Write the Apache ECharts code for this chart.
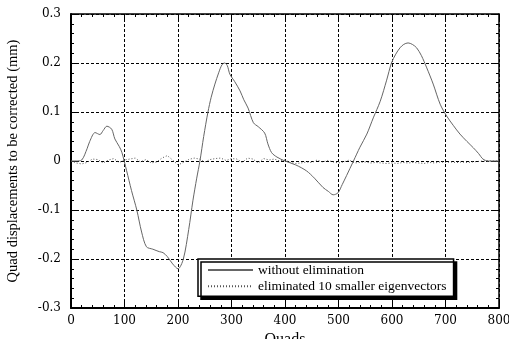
<!DOCTYPE html>
<html><head><meta charset="utf-8">
<script src="https://cdn.jsdelivr.net/npm/echarts@6/dist/echarts.min.js"></script>
<style>html,body{margin:0;padding:0;background:#fff}#c{width:509px;height:339px}</style>
</head><body><div id="c"></div>
<script>
const xTicks = [0,100,200,300,400,500,600,700,800];
const yTicks = [-0.3,-0.2,-0.1,0,0.1,0.2,0.3];
const seriesNames = ['without elimination','eliminated 10 smaller eigenvectors'];
const quadsA = [0,10,20,30,35,45,54,60,67,76,82,90,95,104,113,123,132,141,153,165,172,180,190,200,210,220,228,235,241,248,256,262,269,276,282,287,292,297,306,316,323,331,341,350,362,368,375,385,400,420,440,455,471,481,490,499,507,515,528,540,553,565,578,590,599,607,615,622,630,638,646,655,665,677,690,702,715,727,740,752,762,770,780,790,800];
const withoutElim = [0,0,0.002,0.025,0.04,0.058,0.054,0.062,0.071,0.065,0.045,0.03,0.018,-0.02,-0.06,-0.1,-0.145,-0.175,-0.18,-0.185,-0.187,-0.195,-0.21,-0.22,-0.2,-0.14,-0.08,-0.035,0,0.05,0.1,0.13,0.157,0.18,0.196,0.2,0.195,0.177,0.162,0.143,0.125,0.108,0.078,0.07,0.057,0.035,0.017,0.008,0,-0.008,-0.02,-0.035,-0.054,-0.062,-0.069,-0.065,-0.048,-0.03,0,0.028,0.055,0.088,0.122,0.165,0.2,0.218,0.231,0.238,0.241,0.238,0.231,0.215,0.19,0.157,0.116,0.092,0.072,0.055,0.04,0.027,0.015,0.004,0,0,0];
const quadsB = [0,10,20,30,40,50,60,70,80,90,100,110,120,130,140,150,160,170,180,190,200,210,220,230,240,250,260,270,280,290,300,310,320,330,340,350,360,370,380,390,400,410,420,430,440,450,460,470,480,490,500,510,520,530,540,550,560,570,580,590,600,610,620,630,640,650,660,670,680,690,700,710,720,730,740,750,760,770,780,790,800];
const eliminated = [0,-0.004,-0.006,-0.003,0.004,0.003,-0.004,0.002,0.005,-0.003,0.002,0.004,0.006,-0.002,0.003,-0.004,-0.002,0.006,0.011,0.002,-0.008,-0.003,0.003,0.006,0.004,-0.002,0.003,0.005,0.006,0.001,0.005,0.004,-0.003,0.006,0.004,-0.004,0.005,0.002,0.004,0,0.002,-0.003,-0.005,-0.004,-0.002,-0.003,0.002,-0.002,0.001,-0.002,-0.004,-0.002,0.002,-0.004,-0.003,-0.002,-0.004,-0.003,-0.004,-0.005,-0.004,-0.005,-0.003,-0.004,-0.003,-0.004,-0.005,-0.003,-0.004,-0.002,-0.003,-0.002,-0.003,-0.002,-0.003,-0.002,-0.001,0,0,0,0];

const FONT = 'Liberation Serif';
const TICKFONT = 'DejaVu Serif';
const grid = {left:71, right:10, top:14, bottom:31, containLabel:false, outerBoundsMode:'none'};
const splitStyle = {show:true, lineStyle:{color:'#000', type:[3,2], width:1}};
const axLine = {show:true, onZero:false, lineStyle:{color:'#000', width:2}};
const tick = {show:true, inside:true, length:6, lineStyle:{color:'#000', width:1}};
const minor = {show:true, splitNumber:5, length:3, lineStyle:{color:'#000', width:1}};

const chart = echarts.init(document.getElementById('c'), null, {renderer:'canvas'});
chart.setOption({
  animation:false,
  backgroundColor:'#fff',
  grid,
  legend:{
    orient:'vertical', left:198, top:259,
    data:seriesNames,
    backgroundColor:'#fff', borderColor:'#000', borderWidth:1.5,
    shadowColor:'#000', shadowOffsetX:3, shadowOffsetY:3, shadowBlur:0,
    padding:[4,7,3,9], itemGap:2.3, itemWidth:45, itemHeight:12, itemTextGap:8,
    itemStyle:{opacity:0},
    textStyle:{fontFamily:FONT, fontSize:13.5, color:'#000'}
  },
  xAxis:[
    {type:'value', min:xTicks[0], max:xTicks[xTicks.length-1], interval:100, position:'bottom',
     name:'Quads', nameLocation:'middle', nameGap:19, nameTextStyle:{fontFamily:FONT, fontSize:16, color:'#000'},
     axisLine:axLine, axisTick:tick, minorTick:minor, splitLine:splitStyle,
     axisLabel:{fontFamily:TICKFONT, fontSize:12, color:'#000', margin:7}},
    {type:'value', min:xTicks[0], max:xTicks[xTicks.length-1], interval:100, position:'top',
     axisLine:{show:true, onZero:false, lineStyle:{color:'#000', width:1.5}}, axisTick:tick, minorTick:minor,
     splitLine:{show:false}, axisLabel:{show:false}}
  ],
  yAxis:[
    {type:'value', min:yTicks[0], max:yTicks[yTicks.length-1], interval:0.1, position:'left',
     name:'Quad displacements to be corrected (mm)', nameLocation:'middle', nameGap:50,
     nameTextStyle:{fontFamily:FONT, fontSize:14.5, color:'#000'},
     axisLine:axLine, axisTick:tick, minorTick:minor, splitLine:splitStyle,
     axisLabel:{fontFamily:TICKFONT, fontSize:12, color:'#000', margin:10,
       formatter:v=>{const r=Math.round(v*10)/10; return r===0?'0':String(r);}}},
    {type:'value', min:yTicks[0], max:yTicks[yTicks.length-1], interval:0.1, position:'right',
     axisLine:{show:true, onZero:false, lineStyle:{color:'#000', width:1.5}}, axisTick:tick, minorTick:minor,
     splitLine:{show:false}, axisLabel:{show:false}}
  ],
  series:[
    {name:seriesNames[0], type:'line', showSymbol:false, symbol:'none', smooth:0.3,
     data:quadsA.map((x,i)=>[x,withoutElim[i]]),
     lineStyle:{color:'#666', width:1, type:'solid'}, itemStyle:{color:'#666'}},
    {name:seriesNames[1], type:'line', showSymbol:false, symbol:'none',
     data:quadsB.map((x,i)=>[x,eliminated[i]]),
     lineStyle:{color:'#555', width:1, type:[1,2]}, itemStyle:{color:'#555'}}
  ]
});
</script></body></html>
